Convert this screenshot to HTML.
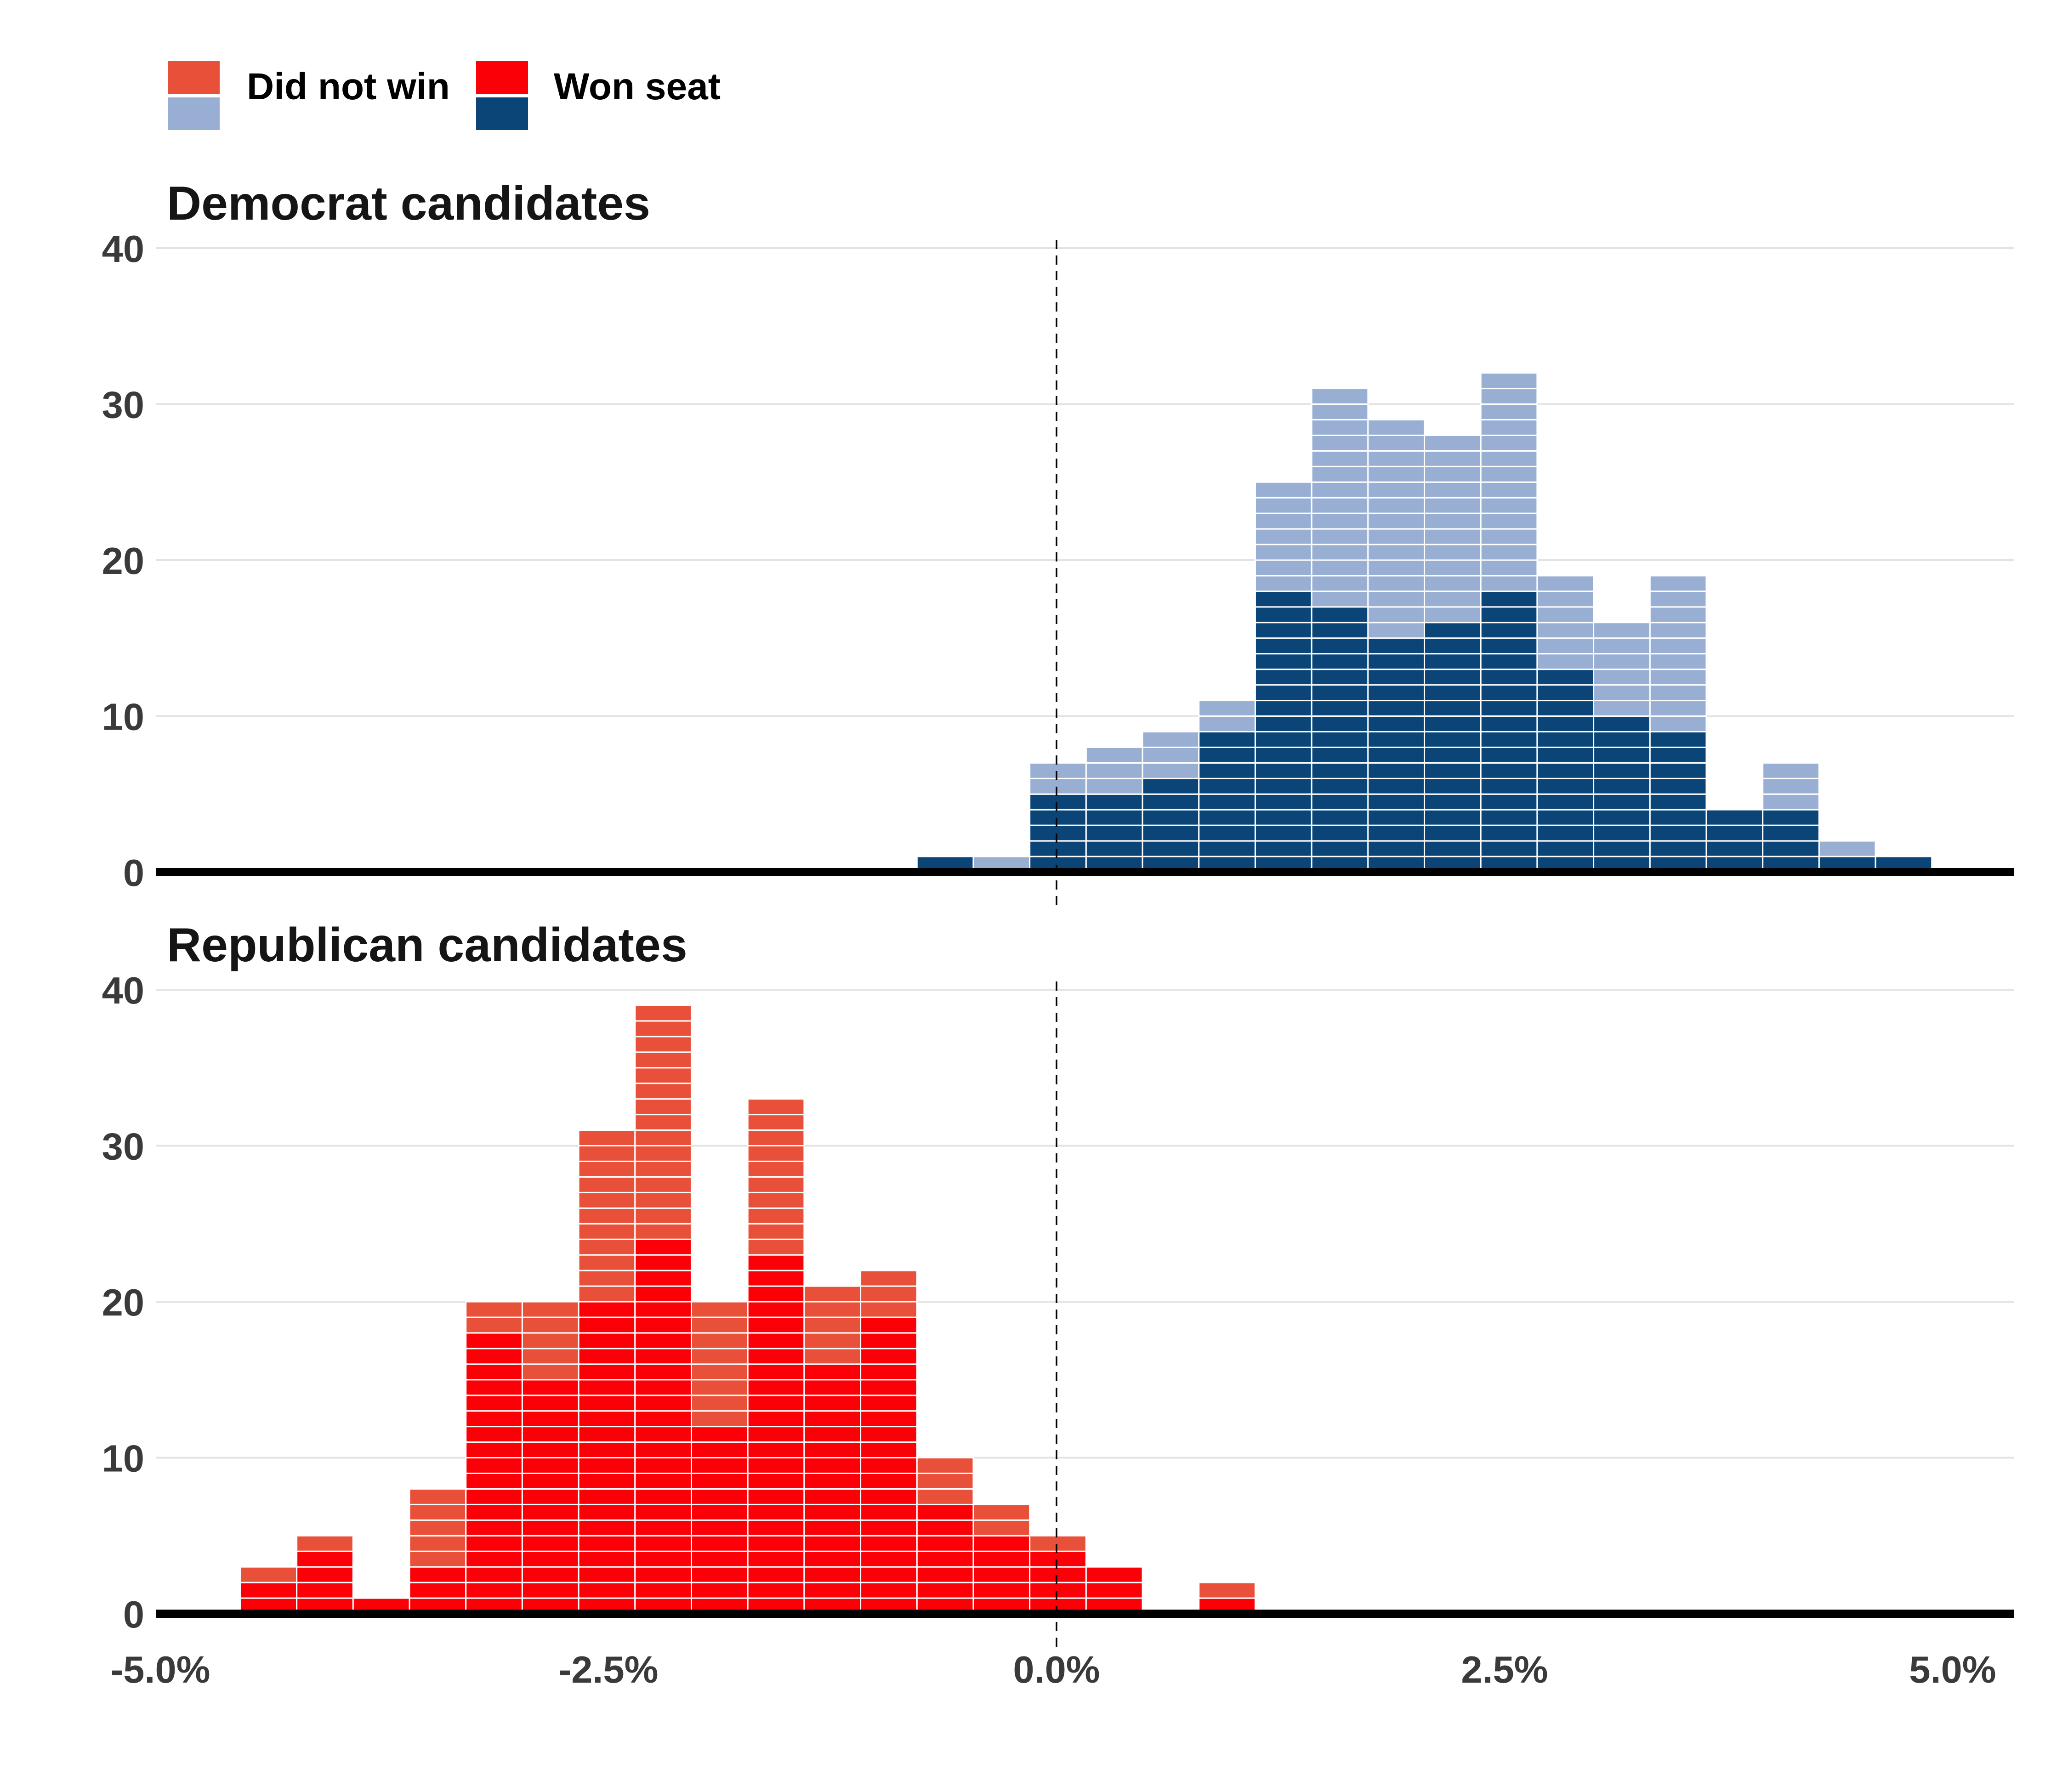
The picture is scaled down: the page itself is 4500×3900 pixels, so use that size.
<!DOCTYPE html>
<html><head><meta charset="utf-8"><style>
html,body{margin:0;padding:0;background:#fff}
svg{display:block}
text{font-family:"Liberation Sans",Arial,sans-serif;font-weight:bold}
</style></head><body>
<svg id="chart" width="4500" height="3900" viewBox="0 0 4500 3900" xmlns="http://www.w3.org/2000/svg">
<g>
<rect x="365" y="133" width="113" height="72" fill="#e8503a"/>
<rect x="365" y="212" width="113" height="71" fill="#98afd3"/>
<text x="537" y="216" font-size="82" fill="#000">Did not win</text>
<rect x="1036" y="133" width="113" height="72" fill="#fc0008"/>
<rect x="1036" y="212" width="113" height="71" fill="#0b4577"/>
<text x="1205" y="216" font-size="82" fill="#000">Won seat</text>
</g>
<g id="panels"></g>
</svg>
<script>
const binStart = -4.554;
const binWidth = 0.3146;
const demBins = [12,13,14,15,16,17,18,19,20,21,22,23,24,25,26,27,28,29];
const demTotal = [1,1,7,8,9,11,25,31,29,28,32,19,16,19,4,7,2,1];
const demWon   = [1,0,5,5,6,9,18,17,15,16,18,13,10,9,4,4,1,1];
const repBins = [0,1,2,3,4,5,6,7,8,9,10,11,12,13,14,15,17];
const repTotal = [3,5,1,8,20,20,31,39,20,33,21,22,10,7,5,3,2];
const repWon   = [2,4,1,3,18,15,20,24,12,23,16,19,7,5,4,3,1];
const yTicks = [0,10,20,30,40];
const xTicks = [-5,-2.5,0,2.5,5];
const xTickLabels = ["-5.0%","-2.5%","0.0%","2.5%","5.0%"];

const NS = "http://www.w3.org/2000/svg";
const root = document.getElementById('panels');
function el(tag, attrs, parent){const e=document.createElementNS(NS,tag);for(const k in attrs)e.setAttribute(k,attrs[k]);(parent||root).appendChild(e);return e;}
const xScale = v => 2299 + v*390;
const unit = 33.95;
const plotL = 340, plotR = 4382;

function panel(key, title, base, bins, totals, wons, cLost, cWon){
  const g = el('g',{});
  
  
  const yScale = v => base - v*unit;
  const t = el('text',{x:363,y:yScale(40)-62,'font-size':104,fill:'#151515'},g);
  t.textContent = title;
  
  
  yTicks.forEach(v=>{
    if(v>0){
      const gl = el('line',{x1:plotL,x2:plotR,y1:yScale(v),y2:yScale(v),stroke:'#e3e3e3','stroke-width':4},g);
      
      
    }
    const tl = el('text',{x:314,y:yScale(v)+30,'font-size':83,fill:'#3a3a3a','text-anchor':'end'},g);
    tl.textContent = v;
    
    
  });
  bins.forEach((b,i)=>{
    const x0 = xScale(binStart + b*binWidth), x1 = xScale(binStart + (b+1)*binWidth);
    for(let u=0; u<totals[i]; u++){
      const r = el('rect',{x:x0,y:yScale(u+1),width:x1-x0,height:unit,fill:u<wons[i]?cWon:cLost,stroke:'#fff','stroke-width':3},g);
      
      
    }
  });
  const ax = el('line',{x1:plotL,x2:plotR,y1:base,y2:base,stroke:'#000','stroke-width':18},g);
  
  
  const dl = el('line',{x1:xScale(0),x2:xScale(0),y1:yScale(40)-18,y2:base+72,stroke:'#000','stroke-width':3.5,'stroke-dasharray':'20 14'},g);
  
  
}
panel('democrat','Democrat candidates',1898,demBins,demTotal,demWon,'#98afd3','#0b4577');
panel('republican','Republican candidates',3512,repBins,repTotal,repWon,'#e8503a','#fc0008');
xTicks.forEach((v,i)=>{
  const t = el('text',{x:xScale(v),y:3662,'font-size':83,fill:'#3a3a3a','text-anchor':'middle'});
  t.textContent = xTickLabels[i];
  
  
});
</script>
</body></html>
